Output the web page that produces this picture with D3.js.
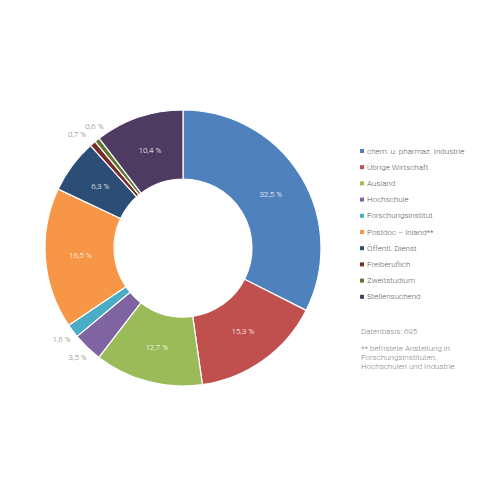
<!DOCTYPE html>
<html><head><meta charset="utf-8">
<script src="https://cdn.jsdelivr.net/npm/d3@7"></script>
<style>body{margin:0;background:#fff}svg{display:block;font-family:Roboto,"Open Sans",sans-serif;font-weight:300}</style>
</head><body><svg id="c" width="480" height="480"></svg>
<script>
const categories = ["chem. u. pharmaz. Industrie","Übrige Wirtschaft","Ausland","Hochschule","Forschungsinstitut","Postdoc – Inland**","Öffentl. Dienst","Freiberuflich","Zweitstudium","Stellensuchend"];
const values = [32.5,15.3,12.7,3.5,1.6,16.5,6.3,0.7,0.6,10.4];
const colors = ["#4f81bd","#c0504d","#9bbb59","#8064a2","#4bacc6","#f79646","#2c4d75","#772c2a","#5f7530","#4d3b62"];
const outsideLabel = [false,false,false,true,true,false,false,true,true,false];
const noteLines = ["Datenbasis: 695","** befristete Anstellung in","Forschungsinstituten,","Hochschulen und Industrie"];

const svg = d3.select("#c");
const cx = 183, cy = 248, R = 138, r = 69;
const g = svg.append("g").attr("transform",`translate(${cx},${cy})`);
const pie = d3.pie().sort(null).value(d=>d);
const arcs = pie(values);
const arc = d3.arc().innerRadius(r).outerRadius(R);
const mid = d3.arc().innerRadius(103).outerRadius(103);
const fmt = v => d3.format(".1f")(v).replace(".",",") + " %";

g.selectAll("path").data(arcs).join("path")
  .attr("d",arc).attr("fill",(d,i)=>colors[i])
  .attr("stroke","#fff").attr("stroke-width",1.2).attr("stroke-linejoin","round");

// outside label placement: spread neighbouring small slices apart
function outPos(d,i){
  let a = (d.startAngle+d.endAngle)/2, rad = 152;
  const prevOut = i>0 && outsideLabel[i-1] && arcs[i-1].endAngle-arcs[i-1].startAngle < 0.06;
  const nextOut = i<arcs.length-1 && outsideLabel[i+1] && arcs[i+1].endAngle-arcs[i+1].startAngle < 0.06;
  if (nextOut && d.endAngle-d.startAngle < 0.06) { a -= 0.04; rad = 155; }
  if (prevOut && d.endAngle-d.startAngle < 0.06) { a += 0.04; rad = 150; }
  return [rad*Math.sin(a), -rad*Math.cos(a)];
}

g.selectAll("text.l").data(arcs).join("text").attr("class","l")
  .attr("transform",(d,i)=>`translate(${outsideLabel[i]?outPos(d,i):mid.centroid(d)})`)
  .attr("text-anchor","middle").attr("dominant-baseline","central")
  .attr("font-size",8).attr("fill",(d,i)=>outsideLabel[i]?"#7f7f7f":"#fff")
  .text(d=>fmt(d.data));

const leg = svg.append("g").attr("transform","translate(360,151)");
const rows = leg.selectAll("g").data(categories).join("g")
  .attr("transform",(d,i)=>`translate(0,${i*16.2})`);
rows.append("rect").attr("x",0).attr("y",-2).attr("width",4).attr("height",4).attr("fill",(d,i)=>colors[i]);
rows.append("text").attr("x",7).attr("y",0).attr("dominant-baseline","central")
  .attr("font-size",8).attr("fill","#595959").text(d=>d);

const note = svg.append("g").attr("transform","translate(361,331)");
note.selectAll("text").data(noteLines).join("text")
  .attr("x",0).attr("y",(d,i)=> i===0?0:8+i*9).attr("dominant-baseline","central")
  .attr("font-size",8).attr("fill","#7f7f7f").text(d=>d);
</script></body></html>
